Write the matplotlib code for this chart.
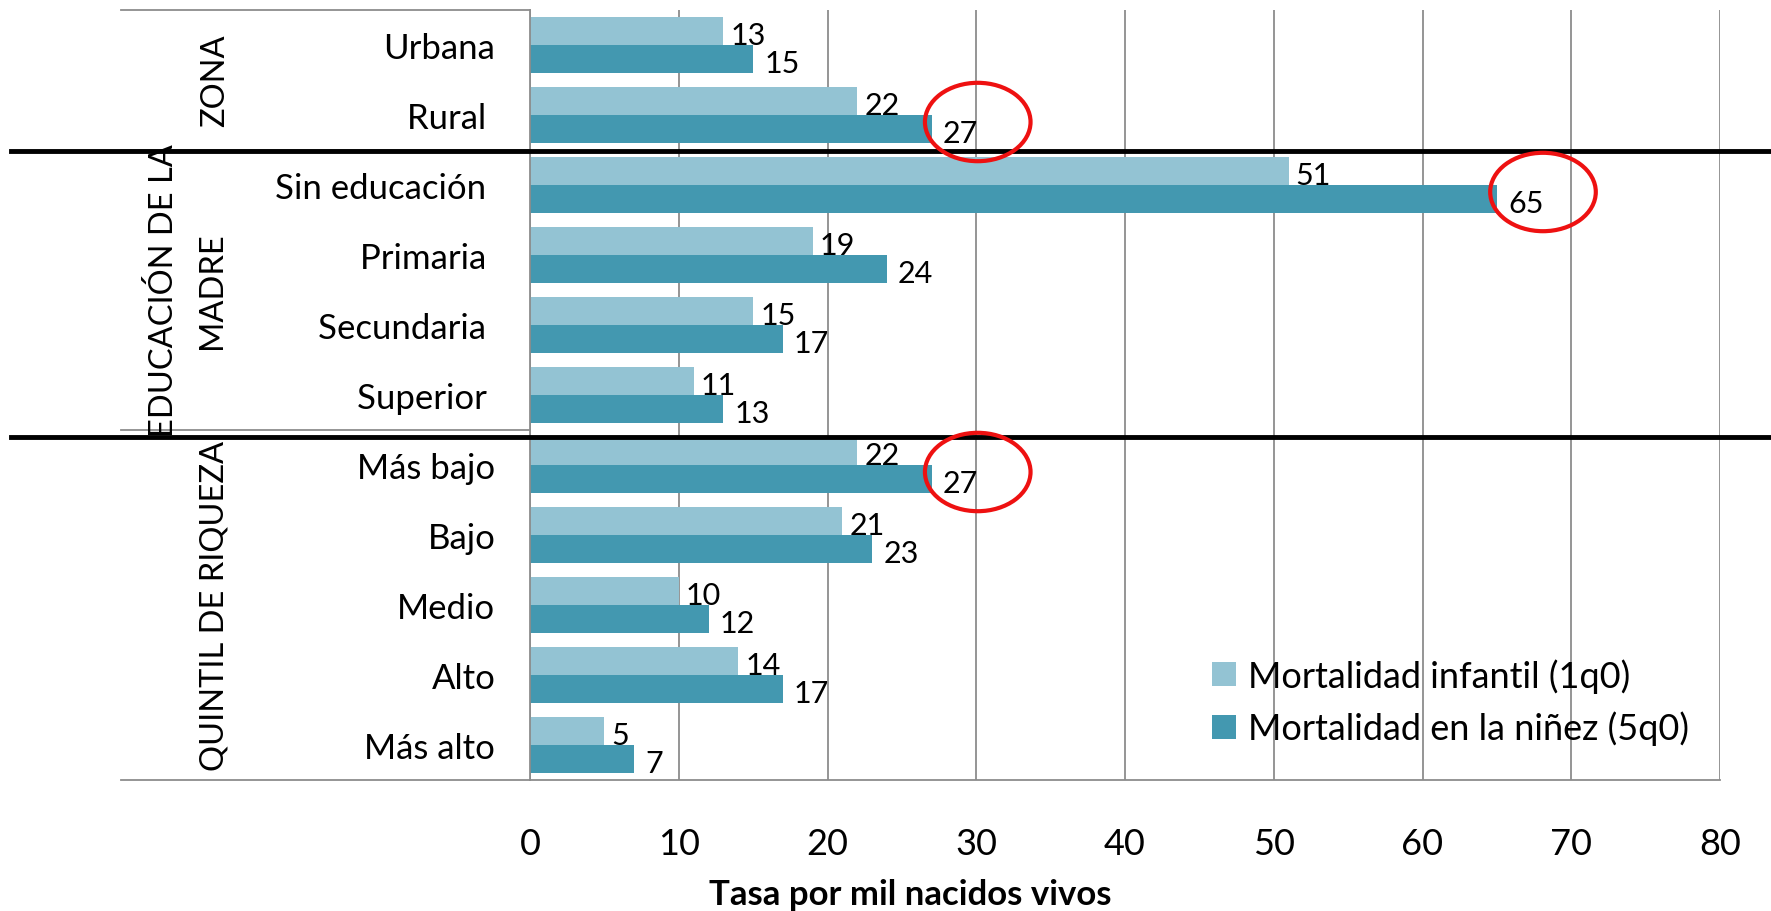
import numpy as np
import matplotlib
matplotlib.use("Agg")
import matplotlib.pyplot as plt
from matplotlib.patches import Ellipse
from matplotlib.lines import Line2D
import matplotlib.transforms as mtransforms

plt.rcParams['font.family'] = ['Lato', 'DejaVu Sans']

# data
categories = ["Urbana", "Rural ", "Sin educación ", "Primaria ", "Secundaria ", "Superior ",
              "Más bajo", "Bajo", "Medio", "Alto", "Más alto"]
infantil_1q0 = [13, 22, 51, 19, 15, 11, 22, 21, 10, 14, 5]
ninez_5q0 = [15, 27, 65, 24, 17, 13, 27, 23, 12, 17, 7]
groups = ["ZONA", "EDUCACIÓN DE LA\nMADRE", "QUINTIL DE RIQUEZA"]
group_sizes = [2, 4, 5]
highlighted = [1, 2, 6]   # circled 5q0 values
x_ticks = [0, 10, 20, 30, 40, 50, 60, 70, 80]
series_names = ["Mortalidad infantil (1q0)", "Mortalidad en la niñez (5q0)"]

light = "#93c3d3"
dark = "#4398b0"
grid_c = "#8c8c8c"

W, H = 1771, 912
fig = plt.figure(figsize=(W / 100, H / 100), dpi=100)
ax = fig.add_axes([530 / W, 1 - 781 / H, 1190 / W, 770 / H])

y = np.arange(len(categories))
bh = 0.4
ax.barh(y - bh / 2, infantil_1q0, height=bh, color=light, zorder=2, label=series_names[0])
ax.barh(y + bh / 2, ninez_5q0, height=bh, color=dark, zorder=2, label=series_names[1])

for i in range(len(categories)):
    ax.annotate(str(infantil_1q0[i]), (infantil_1q0[i], y[i] - bh / 2), xytext=(5, -3),
                textcoords="offset points", va="center", ha="left", fontsize=22)
    ax.annotate(str(ninez_5q0[i]), (ninez_5q0[i], y[i] + bh / 2), xytext=(8, -3),
                textcoords="offset points", va="center", ha="left", fontsize=22)

ax.set_xlim(0, 80)
ax.set_ylim(len(categories) - 0.5, -0.5)
ax.set_xticks(x_ticks)
ax.set_xticklabels([str(t) for t in x_ticks], fontsize=26)
ax.set_yticks(y)
ax.set_yticklabels(categories, fontsize=25)
ax.tick_params(axis="both", length=0)
ax.tick_params(axis="x", pad=34)
ax.tick_params(axis="y", pad=25)
ax.grid(axis="x", color=grid_c, linewidth=1.3, zorder=0)
ax.set_axisbelow(True)
for s in ["top", "right"]:
    ax.spines[s].set_visible(False)
for s in ["left", "bottom"]:
    ax.spines[s].set_color(grid_c)
    ax.spines[s].set_linewidth(1.3)

# table lines of the category block on the left
blend = mtransforms.blended_transform_factory(fig.transFigure, ax.transData)
x_tab = 121 / W
x_ax = 530 / W
bounds = np.cumsum([0] + group_sizes) - 0.5
for b in bounds:
    ax.add_line(Line2D([x_tab, x_ax], [b, b], transform=blend, color=grid_c,
                       linewidth=1.3, clip_on=False))

# group labels
for g, (start, n) in enumerate(zip(bounds[:-1], group_sizes)):
    mid = start + n / 2
    ax.text(215 / W - (0.0155 if "\n" in groups[g] else 0), mid, groups[g], transform=blend,
            rotation=90, ha="center", va="center", fontsize=23.5, linespacing=1.75)

# thick black separators
for yb in [1.52, 5.6]:
    ax.add_line(Line2D([11 / W, 1.0], [yb, yb], transform=blend, color="black",
                       linewidth=3.5, clip_on=False, zorder=5))

# red circles around highlighted values
for i in highlighted:
    ax.add_patch(Ellipse((ninez_5q0[i] + 3.1, y[i] + 0.1), width=7.1, height=1.12,
                         fill=False, edgecolor="#ee1111", linewidth=3, clip_on=False, zorder=6))

leg = ax.legend(loc="lower right", bbox_to_anchor=(1722 / W, 1 - 779 / H),
                bbox_transform=fig.transFigure, frameon=False, fontsize=26,
                handlelength=0.65, handleheight=0.65, handletextpad=0.35, labelspacing=0.5)

fig.text(910 / W, 1 - 895 / H, "Tasa por mil nacidos vivos", ha="center", va="center",
         fontsize=25, fontweight="bold")

fig.savefig("out.png", dpi=100, facecolor="white")
